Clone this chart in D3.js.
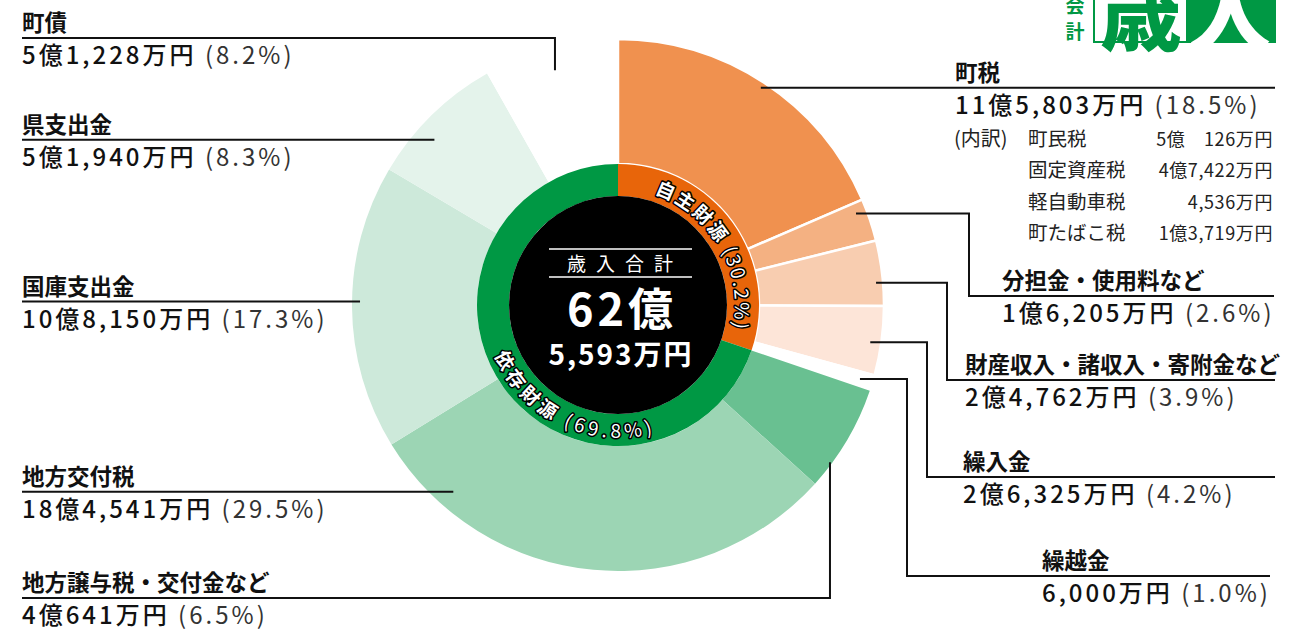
<!DOCTYPE html>
<html>
<head>
<meta charset="utf-8">
<script src="https://cdn.jsdelivr.net/npm/d3@7"></script>
<style>
  body { margin: 0; background: #fff; }
  svg { display: block; font-family: "Noto Sans CJK JP", "Noto Sans", sans-serif; }
</style>
</head>
<body>
<script>
// 歳入 pie
var width = 1294;
var height = 640;
var cx = 618, cy = 305;

var categories = ['町税', '分担金・使用料など', '財産収入・諸収入・寄附金など', '繰入金', '繰越金',
  '地方譲与税・交付金など', '地方交付税', '国庫支出金', '県支出金', '町債'];
var amounts = [115803, 16205, 24762, 26325, 6000, 40641, 184541, 108150, 51940, 51228]; // 万円
var percents = [18.5, 2.6, 3.9, 4.2, 1.0, 6.5, 29.5, 17.3, 8.3, 8.2];
var colors = ['#f0914f', '#f4b182', '#f8cdb0', '#fde5d8', '#ffffff',
  '#69c091', '#9cd5b4', '#cde9da', '#e4f3eb', '#ffffff'];
var groupOf = [0, 0, 0, 0, 0, 1, 1, 1, 1, 1];

var groups = ['自主財源', '依存財源'];
var groupPercents = [30.2, 69.8];
var groupColors = ['#e8650a', '#009844'];

var breakdownNames = ['町民税', '固定資産税', '軽自動車税', '町たばこ税'];
var breakdownAmounts = [50126, 47422, 4536, 13719];

var total = 625593;

// where each label sits and where its leader touches the slice
var labelLayout = [
  {x: 955, endX: 1275, t: 0.5, r: 260, mode: 'h'},
  {x: 1002, endX: 1274, t: 0.25, r: 255, mode: 'e', elbowX: 969, lineY: 296},
  {x: 965, endX: 1275, t: 0.64, r: 259, mode: 'e', elbowX: 947, lineY: 380},
  {x: 963, endX: 1275, t: 0.54, r: 255, mode: 'e', elbowX: 927, lineY: 477},
  {x: 1042, endX: 1270, t: 0.47, r: 253, mode: 'e', elbowX: 907, lineY: 576},
  {x: 22, endX: 22, t: 0.76, r: 264, mode: 'v', lineY: 598},
  {x: 22, endX: 22, t: 0.84, r: 249, mode: 'h'},
  {x: 22, endX: 22, t: 0.52, r: 258, mode: 'h'},
  {x: 22, endX: 22, t: 0.38, r: 247, mode: 'h'},
  {x: 22, endX: 22, t: 0.49, r: 243, mode: 'v', lineY: 38}
];

function fmt(v, pad) {
  var oku = Math.floor(v / 10000), man = v % 10000;
  var s = '';
  if (oku > 0) s += oku + '億';
  if (pad && oku > 0 && man < 1000) s += '　';
  return s + d3.format(',')(man) + '万円';
}

function polar(a, r) {
  return [cx + r * Math.sin(a), cy - r * Math.cos(a)];
}

var svg = d3.select('body').append('svg')
  .attr('width', width)
  .attr('height', height);

var pie = d3.pie().sort(null).value(d => d);
var arcs = pie(amounts);

var outerArc = d3.arc().innerRadius(141).outerRadius(266);
var ringArc = d3.arc().innerRadius(109).outerRadius(141);

var g = svg.append('g').attr('transform', `translate(${cx},${cy})`);

g.selectAll('path.slice')
  .data(arcs)
  .enter().append('path')
  .attr('class', 'slice')
  .attr('fill', (d, i) => colors[i])
  .attr('stroke', (d, i) => groupOf[i] == 0 ? '#fff' : 'none')
  .attr('stroke-width', 2.5)
  .attr('d', outerArc);

var ring = pie(groupPercents);
g.selectAll('path.ring')
  .data(ring)
  .enter().append('path')
  .attr('class', 'ring')
  .attr('fill', (d, i) => groupColors[i])
  .attr('d', ringArc);

g.append('circle').attr('r', 109).attr('fill', '#000');

// leaders
var leaders = svg.append('g')
  .attr('fill', 'none')
  .attr('stroke', '#111')
  .attr('stroke-width', 2);

var labels = svg.append('g');

arcs.forEach((d, i) => {
  var L = labelLayout[i];
  var a = d.startAngle + L.t * (d.endAngle - d.startAngle);
  var p = polar(a, L.r);
  var lineY, path;
  if (L.mode == 'h') {
    lineY = p[1];
    path = `M${p[0]},${p[1]}H${L.endX}`;
  } else if (L.mode == 'v') {
    lineY = L.lineY;
    path = `M${p[0]},${p[1]}V${lineY}H${L.endX}`;
  } else {
    lineY = L.lineY;
    path = `M${p[0]},${p[1]}H${L.elbowX}V${lineY}H${L.endX}`;
  }
  leaders.append('path').attr('d', path);

  labels.append('text')
    .attr('x', L.x)
    .attr('y', lineY - 7)
    .attr('font-size', 22.5)
    .attr('font-weight', 700)
    .attr('fill', '#111')
    .text(categories[i]);

  var v = labels.append('text')
    .attr('x', L.x)
    .attr('y', lineY + 26)
    .attr('font-size', 24)
    .attr('fill', '#111')
    .attr('letter-spacing', 3);
  v.append('tspan').attr('font-weight', 500).text(fmt(amounts[i]));
  v.append('tspan').attr('font-weight', 400).attr('fill', '#333').text(' (' + percents[i].toFixed(1) + '%)');
});

// 町税 内訳
var bd = svg.append('g').attr('fill', '#222');
bd.append('text').attr('x', 954).attr('y', 146).attr('font-size', 20).text('(内訳)');
breakdownNames.forEach((n, i) => {
  var y = 146 + i * 31.3;
  bd.append('text').attr('x', 1028).attr('y', y).attr('font-size', 19.5).text(n);
  bd.append('text').attr('x', 1273).attr('y', y).attr('font-size', 18)
    .attr('letter-spacing', 0.6)
    .attr('text-anchor', 'end').text(fmt(breakdownAmounts[i], true));
});

// center
var c = svg.append('g').attr('fill', '#fff').attr('text-anchor', 'middle');
c.append('line').attr('x1', 549).attr('x2', 692).attr('y1', 249).attr('y2', 249).attr('stroke', '#fff').attr('stroke-width', 1.5);
c.append('line').attr('x1', 549).attr('x2', 692).attr('y1', 277).attr('y2', 277).attr('stroke', '#fff').attr('stroke-width', 1.5);
c.append('text').attr('x', 625).attr('y', 271).attr('font-size', 19).attr('letter-spacing', 10).text('歳入合計');
c.append('text').attr('x', 622).attr('y', 326).attr('font-size', 45).attr('font-weight', 700)
  .attr('letter-spacing', 4).text(Math.floor(total / 10000) + '億');
c.append('text').attr('x', 621).attr('y', 365).attr('font-size', 28).attr('font-weight', 700)
  .attr('letter-spacing', 2).text(d3.format(',')(total % 10000) + '万円');

// ring labels on arcs
var deg = Math.PI / 180;
var defs = svg.append('defs');
var ringText = [
  {id: 'rt0', a0: 18, a1: 102, r: 117, sweep: 1},
  {id: 'rt1', a0: 248, a1: 163, r: 133, sweep: 0}
];
ringText.forEach((R, i) => {
  var p0 = polar(R.a0 * deg, R.r), p1 = polar(R.a1 * deg, R.r);
  defs.append('path').attr('id', R.id)
    .attr('d', `M${p0[0]},${p0[1]}A${R.r},${R.r} 0 0 ${R.sweep} ${p1[0]},${p1[1]}`);
  var t = svg.append('text')
    .attr('font-size', 19)
    .attr('font-weight', 700)
    .attr('fill', '#fff')
    .attr('stroke', '#000')
    .attr('stroke-width', 3)
    .attr('stroke-linejoin', 'round')
    .attr('paint-order', 'stroke');
  var tp = t.append('textPath').attr('href', '#' + R.id);
  tp.append('tspan').text(groups[i]);
  tp.append('tspan').attr('font-weight', 400).text(' (' + groupPercents[i].toFixed(1) + '%)');
  var target = Math.abs(R.a1 - R.a0) * deg * R.r;
  var natural = t.node().getComputedTextLength();
  var n = (groups[i] + ' (' + groupPercents[i].toFixed(1) + '%)').length;
  t.attr('letter-spacing', Math.max(0, (target - natural) / n));
});

// header box
var h = svg.append('g');
h.append('rect').attr('x', 1094).attr('y', -10).attr('width', 181).attr('height', 52)
  .attr('fill', '#fff').attr('stroke', '#009844').attr('stroke-width', 2);
h.append('rect').attr('x', 1186).attr('y', -10).attr('width', 89).attr('height', 52).attr('fill', '#009844');
h.append('text').attr('x', 1141).attr('y', 44).attr('font-size', 82).attr('font-weight', 900)
  .attr('text-anchor', 'middle').attr('fill', '#009844').text('歳');
h.append('text').attr('x', 1230).attr('y', 44).attr('font-size', 82).attr('font-weight', 900)
  .attr('text-anchor', 'middle').attr('fill', '#fff').text('入');
h.append('text').attr('x', 1075).attr('y', 13).attr('font-size', 19).attr('font-weight', 700)
  .attr('text-anchor', 'middle').attr('fill', '#009844').text('会');
h.append('text').attr('x', 1075).attr('y', 39).attr('font-size', 19).attr('font-weight', 700)
  .attr('text-anchor', 'middle').attr('fill', '#009844').text('計');
</script>
</body>
</html>
